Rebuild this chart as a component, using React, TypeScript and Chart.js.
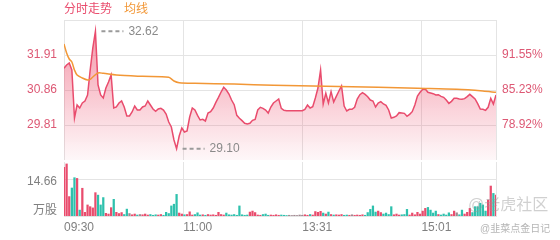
import React, { useEffect, useRef } from 'react';
import { Chart, registerables } from 'chart.js';

Chart.register(...registerables);

// ---------- data ----------
const STEP_MIN = 2; // one sample every 2 trading minutes
const SESSION_MINUTES = 330;
const TIME_TICK_MINUTES = [0, 91, 182, 273];
const TIME_TICK_LABELS = ['09:30', '11:00', '13:31', '15:01'];

const PRICE_MIN = 28.76;
const PRICE_MAX = 32.96;
const PRICE_TICKS = [29.81, 30.86, 31.91];
const PCT_TICK_LABELS = ['78.92%', '85.23%', '91.55%'];

const VOL_MAX = 21.99;
const VOL_TICK = 14.66;
const VOL_UNIT = '万股';
const VOL_UNIT_AT = 2.85;

const SERIES_PRICE = '分时走势';
const SERIES_AVG = '均线';

const PRICES = [
  31.51, 31.61, 31.67, 31.46, 30.02, 30.41, 30.32, 30.47, 30.53, 30.71,
  31.46, 32.12, 32.62, 31.01, 30.71, 30.62, 30.92, 31.10, 31.31, 30.32,
  30.35, 30.47, 30.53, 30.35, 30.08, 30.08, 30.20, 30.38, 30.26, 30.26,
  30.35, 30.38, 30.53, 30.41, 30.29, 30.22, 30.29, 30.31, 30.26, 30.14,
  29.90, 29.75, 29.36, 29.10, 29.48, 29.72, 29.60, 29.63, 30.05, 30.32,
  30.26, 30.10, 29.96, 29.98, 29.93, 30.17, 30.21, 30.32, 30.49, 30.64,
  30.80, 30.94, 30.86, 30.74, 30.56, 30.42, 30.10, 30.01, 29.94, 29.86,
  29.84, 29.86, 29.95, 29.98, 30.26, 30.34, 30.31, 30.26, 30.17, 30.35,
  30.47, 30.53, 30.59, 30.31, 30.25, 30.24, 30.24, 30.24, 30.24, 30.24,
  30.24, 30.24, 30.28, 30.41, 30.32, 30.36, 30.62, 30.92, 31.46, 30.44,
  30.76, 30.47, 30.81, 30.50, 30.67, 30.83, 30.98, 30.38, 30.23, 30.28,
  30.28, 30.34, 30.59, 30.72, 30.78, 30.73, 30.66, 30.56, 30.53, 30.35,
  30.47, 30.51, 30.44, 30.40, 30.26, 30.02, 30.04, 30.08, 30.18, 30.17,
  30.16, 30.07, 30.13, 30.21, 30.41, 30.68, 30.79, 30.88, 30.89, 30.79,
  30.77, 30.75, 30.71, 30.72, 30.67, 30.64, 30.56, 30.46, 30.52, 30.61,
  30.61, 30.59, 30.58, 30.60, 30.66, 30.73, 30.66, 30.59, 30.45, 30.29,
  30.28, 30.25, 30.34, 30.61, 30.44, 30.71,
];

const AVG_MINUTES = [0, 2, 4, 6, 8, 10, 14, 18, 20, 22, 26, 30, 40, 60, 80, 84, 88, 100, 130, 160, 200, 240, 270, 300, 320, 330];
const AVG_PRICES = [32.24, 31.97, 31.79, 31.70, 31.46, 31.31, 31.22, 31.16, 31.18, 31.25, 31.37, 31.36, 31.31, 31.27, 31.24, 31.13, 31.08, 31.06, 31.04, 31.00, 30.97, 30.94, 30.91, 30.88, 30.83, 30.79];

const VOLUMES = [
  19.8, 21.2, 7.9, 11.4, 15.6, 15.3, 2.4, 11.3, 1.5, 4.5,
  3.8, 3.3, 9.5, 8.5, 4.5, 7.5, 1.1, 0.8, 3.4, 6.8,
  1.5, 1.0, 1.4, 0.6, 2.8, 1.0, 0.5, 0.8, 0.4, 0.6,
  0.5, 0.8, 0.4, 0.6, 0.3, 0.5, 0.4, 0.6, 0.3, 1.5,
  1.0, 4.1, 4.8, 8.8, 1.2, 0.8, 0.5, 0.6, 1.7, 0.4,
  0.6, 1.3, 0.4, 0.5, 0.3, 0.6, 0.4, 0.5, 0.3, 1.5,
  0.6, 0.4, 1.2, 0.5, 0.4, 0.6, 0.3, 4.1, 0.5, 0.3,
  0.4, 1.6, 2.0, 1.4, 0.4, 0.3, 0.6, 0.8, 0.3, 0.4,
  0.3, 0.5, 0.3, 0.4, 0.3, 0.2, 0.3, 0.2, 0.3, 0.2,
  0.4, 0.3, 0.5, 0.3, 0.6, 0.4, 1.8, 1.5, 1.9, 1.2,
  0.8, 1.6, 0.6, 0.4, 0.5, 0.4, 0.6, 0.3, 0.4, 0.3,
  0.5, 0.3, 0.4, 0.3, 0.5, 0.3, 1.4, 2.7, 4.1, 1.6,
  2.0, 1.4, 0.8, 1.2, 0.6, 3.8, 0.5, 0.8, 0.4, 0.5,
  0.6, 2.7, 0.4, 1.2, 0.5, 1.5, 0.8, 2.0, 3.1, 3.5,
  2.4, 1.2, 2.0, 0.6, 0.4, 0.8, 0.4, 1.3, 0.6, 2.0,
  1.3, 0.5, 2.4, 0.8, 1.5, 3.1, 1.4, 3.8, 3.8, 5.2,
  4.5, 2.0, 6.5, 12.2, 9.2, 8.5,
];

// ---------- styles ----------
const FONT_FAMILY = 'Arial, "Liberation Sans", "Noto Sans CJK SC", sans-serif';
const RED = '#e94c6d';
const ORANGE = '#f29736';
const TEAL = '#2ec1ad';
const FLAT = '#a08890';
const GRID = '#e4e4e4';
const PINK_TEXT = '#dd5874';
const GRAY_TEXT = '#808080';

const legendPlugin = {
  id: 'textLegend',
  afterDraw(chart: any) {
    const { ctx, chartArea } = chart;
    ctx.save();
    ctx.font = `12px ${FONT_FAMILY}`;
    ctx.textBaseline = 'middle';
    ctx.textAlign = 'left';
    let x = chartArea.left;
    chart.data.datasets.forEach((ds: any) => {
      ctx.fillStyle = ds.borderColor;
      ctx.fillText(ds.label, x, 10);
      x += ctx.measureText(ds.label).width + 12;
    });
    ctx.restore();
  },
};

const extremesPlugin = {
  id: 'extremes',
  afterDatasetsDraw(chart: any) {
    const pts = chart.data.datasets[0].data as { x: number; y: number }[];
    let hi = pts[0];
    let lo = pts[0];
    pts.forEach((p) => {
      if (p.y > hi.y) hi = p;
      if (p.y < lo.y) lo = p;
    });
    const { ctx } = chart;
    const xs = chart.scales.x;
    const ys = chart.scales.y;
    ctx.save();
    [hi, lo].forEach((p) => {
      const px = xs.getPixelForValue(p.x);
      const py = ys.getPixelForValue(p.y);
      ctx.strokeStyle = '#9a9a9a';
      ctx.lineWidth = 2;
      ctx.setLineDash([4, 3]);
      ctx.beginPath();
      ctx.moveTo(px + 6, py);
      ctx.lineTo(px + 28, py);
      ctx.stroke();
      ctx.setLineDash([]);
      ctx.fillStyle = '#8a8a8a';
      ctx.font = `12px ${FONT_FAMILY}`;
      ctx.textBaseline = 'middle';
      ctx.textAlign = 'left';
      ctx.fillText(p.y.toFixed(2), px + 33, py);
    });
    ctx.restore();
  },
};

const watermarkPlugin = {
  id: 'watermark',
  afterDraw(chart: any) {
    const { ctx } = chart;
    ctx.save();
    ctx.textBaseline = 'middle';
    ctx.textAlign = 'left';
    ctx.fillStyle = 'rgba(150,150,150,0.45)';
    ctx.font = `16px ${FONT_FAMILY}`;
    ctx.fillText('@老虎社区', 468, 46);
    ctx.fillStyle = 'rgba(150,150,150,0.7)';
    ctx.font = `10px ${FONT_FAMILY}`;
    ctx.fillText('@韭菜点金日记', 480, 69);
    ctx.restore();
  },
};

const xTicks = (s: any) => {
  s.ticks = [...TIME_TICK_MINUTES, SESSION_MINUTES].map((v) => ({ value: v }));
};

export default function App() {
  const priceRef = useRef<HTMLCanvasElement>(null);
  const volRef = useRef<HTMLCanvasElement>(null);

  useEffect(() => {
    const pricePoints = PRICES.map((p, i) => ({ x: i * STEP_MIN, y: p }));
    const avgPoints = AVG_PRICES.map((p, i) => ({ x: AVG_MINUTES[i], y: p }));
    const volPoints = VOLUMES.map((v, i) => ({ x: i * STEP_MIN, y: v }));
    const volColors = PRICES.map((p, i) => {
      if (i === 0) return RED;
      if (p > PRICES[i - 1]) return RED;
      if (p < PRICES[i - 1]) return TEAL;
      return FLAT;
    });

    const priceTicks = (s: any) => {
      s.ticks = [...PRICE_TICKS, PRICE_MAX].map((v) => ({ value: v }));
    };

    const priceChart = new Chart(priceRef.current!, {
      type: 'line',
      data: {
        datasets: [
          {
            label: SERIES_PRICE,
            data: pricePoints,
            borderColor: RED,
            borderWidth: 1.5,
            pointRadius: 0,
            tension: 0,
            fill: 'start',
            order: 2,
            backgroundColor: (c: any) => {
              const area = c.chart.chartArea;
              if (!area) return 'rgba(0,0,0,0)';
              const g = c.chart.ctx.createLinearGradient(0, area.top, 0, area.bottom);
              g.addColorStop(0, 'rgba(236,78,108,0.62)');
              g.addColorStop(1, 'rgba(236,78,108,0.04)');
              return g;
            },
          } as any,
          {
            label: SERIES_AVG,
            data: avgPoints,
            borderColor: ORANGE,
            borderWidth: 1.5,
            pointRadius: 0,
            tension: 0.3,
            fill: false,
            order: 1,
          } as any,
        ],
      },
      options: {
        responsive: false,
        animation: false,
        events: [],
        layout: { padding: { top: 20, left: 0, right: 0, bottom: 0 } },
        plugins: { legend: { display: false }, tooltip: { enabled: false } },
        scales: {
          x: {
            type: 'linear',
            min: 0,
            max: SESSION_MINUTES,
            afterBuildTicks: xTicks,
            ticks: { display: false },
            grid: { color: GRID, drawTicks: false },
            border: { display: false },
            afterFit: (s: any) => {
              s.height = 0;
              s.paddingLeft = 0;
              s.paddingRight = 0;
            },
          },
          y: {
            position: 'left',
            min: PRICE_MIN,
            max: PRICE_MAX,
            afterBuildTicks: priceTicks,
            ticks: {
              color: PINK_TEXT,
              padding: 7,
              font: { family: FONT_FAMILY, size: 12 },
              callback: (v: any) => (PRICE_TICKS.includes(v) ? Number(v).toFixed(2) : ''),
            },
            grid: { color: GRID, drawTicks: false },
            border: { color: GRID },
            afterFit: (s: any) => {
              s.width = 64;
              s.paddingTop = 0;
              s.paddingBottom = 0;
            },
          },
          yPct: {
            position: 'right',
            min: PRICE_MIN,
            max: PRICE_MAX,
            afterBuildTicks: priceTicks,
            ticks: {
              color: PINK_TEXT,
              padding: 6,
              font: { family: FONT_FAMILY, size: 12 },
              callback: (v: any) => {
                const k = PRICE_TICKS.indexOf(v);
                return k >= 0 ? PCT_TICK_LABELS[k] : '';
              },
            },
            grid: { drawOnChartArea: false, drawTicks: false },
            border: { color: GRID },
            afterFit: (s: any) => {
              s.width = 64;
              s.paddingTop = 0;
              s.paddingBottom = 0;
            },
          },
        },
      } as any,
      plugins: [legendPlugin, extremesPlugin],
    });

    const volChart = new Chart(volRef.current!, {
      type: 'bar',
      data: {
        datasets: [
          {
            label: '成交量',
            data: volPoints,
            backgroundColor: volColors,
            barThickness: 1.6,
            grouped: false,
          } as any,
        ],
      },
      options: {
        responsive: false,
        animation: false,
        events: [],
        layout: { padding: { top: 2, left: 0, right: 64, bottom: 0 } },
        plugins: { legend: { display: false }, tooltip: { enabled: false } },
        scales: {
          x: {
            type: 'linear',
            min: 0,
            max: SESSION_MINUTES,
            offset: false,
            afterBuildTicks: xTicks,
            ticks: {
              color: GRAY_TEXT,
              padding: 4,
              align: 'start',
              maxRotation: 0,
              autoSkip: false,
              font: { family: FONT_FAMILY, size: 12 },
              callback: (v: any) => {
                const k = TIME_TICK_MINUTES.indexOf(v);
                return k >= 0 ? TIME_TICK_LABELS[k] : '';
              },
            },
            grid: { color: GRID, drawTicks: false, offset: false },
            border: { color: GRID },
            afterFit: (s: any) => {
              s.height = 24;
              s.paddingLeft = 0;
              s.paddingRight = 0;
            },
          },
          y: {
            position: 'left',
            min: 0,
            max: VOL_MAX,
            afterBuildTicks: (s: any) => {
              s.ticks = [VOL_UNIT_AT, VOL_TICK].map((v) => ({ value: v }));
            },
            ticks: {
              color: GRAY_TEXT,
              padding: 7,
              labelOffset: 2,
              font: { family: FONT_FAMILY, size: 12 },
              callback: (v: any) => (v === VOL_TICK ? VOL_TICK.toFixed(2) : VOL_UNIT),
            },
            grid: {
              drawTicks: false,
              color: (c: any) => (c.tick && c.tick.value === VOL_TICK ? GRID : 'rgba(0,0,0,0)'),
            },
            border: { color: GRID },
            afterFit: (s: any) => {
              s.width = 64;
              s.paddingTop = 0;
              s.paddingBottom = 0;
            },
          },
        },
      } as any,
      plugins: [watermarkPlugin],
    });

    return () => {
      priceChart.destroy();
      volChart.destroy();
    };
  }, []);

  return (
    <div style={{ position: 'absolute', left: 0, top: 0, width: 560, height: 240, background: '#fff' }}>
      <canvas ref={priceRef} width={560} height={160} style={{ display: 'block', width: 560, height: 160 }} />
      <canvas ref={volRef} width={560} height={80} style={{ display: 'block', width: 560, height: 80 }} />
    </div>
  );
}
